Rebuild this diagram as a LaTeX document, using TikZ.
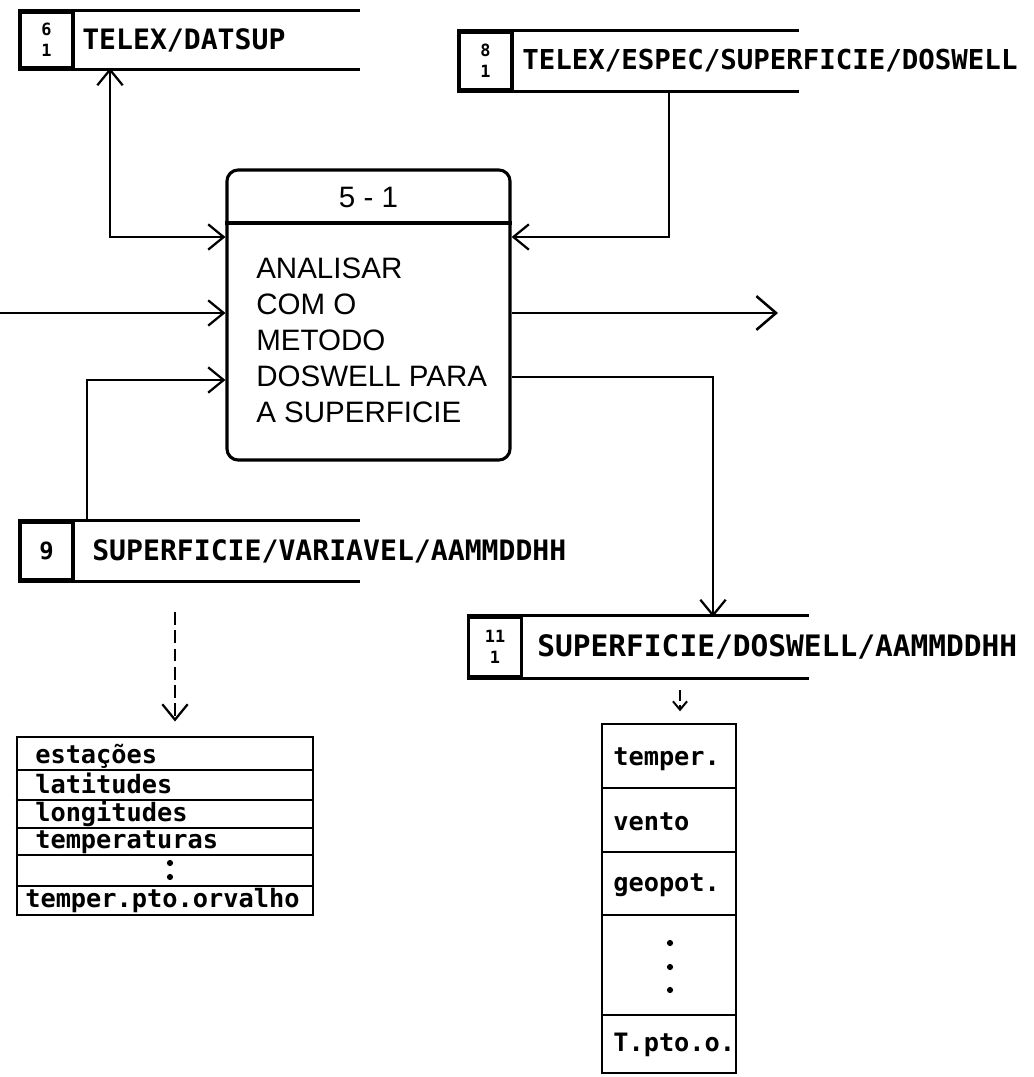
\documentclass[tikz,border=0pt]{standalone}
\usepackage{fontspec}
\setmainfont{Liberation Sans}
\newfontfamily\printfont{DejaVu Sans Mono}
\usetikzlibrary{arrows.meta}

\tikzset{
  arq/.style={line width=2.6pt},
  arqnum/.style={draw, line width=2.2pt, minimum width=1.325cm, minimum height=1.45cm, inner sep=0pt, align=center, font=\printfont\bfseries\fontsize{12}{15}\selectfont},
  arqnome/.style={anchor=west, inner sep=0pt, font=\printfont\bfseries\fontsize{20}{22}\selectfont},
  proc/.style={draw, line width=2.2pt, rounded corners=8pt, minimum width=7.075cm, minimum height=7.25cm, inner sep=0pt},
  proctxt/.style={anchor=west, inner sep=0pt, font=\fontsize{21}{24}\selectfont},
  fluxo/.style={line width=1.6pt, ->},
  tab/.style={draw, line width=2pt, inner sep=0pt},
  celtxt/.style={anchor=base west, inner sep=0pt, font=\printfont\bfseries\fontsize{18}{20}\selectfont},
}

\begin{document}
\begin{tikzpicture}[x=0.025cm, y=-0.025cm, >={Straight Barb[length=11pt,width=18pt,line width=1.6pt]}]
    \useasboundingbox (0,0) rectangle (1033,1077);

    % Arquivos
    \node[arqnum, minimum height=1.4cm] (a6) at (46.5,40) {6\\1};
    \draw[arq] (a6.north west) -- ++(342,0) (a6.south west) -- ++(342,0);
    \node[arqnome] (n6) at (82,40) {TELEX/DATSUP};

    \node[arqnum] (a8) at (485.5,61) {8\\1};
    \draw[arq] (a8.north west) -- ++(342,0) (a8.south west) -- ++(342,0);
    \node[arqnome, font=\printfont\bfseries\fontsize{19.5}{22}\selectfont] (n8) at (522,61) {TELEX/ESPEC/SUPERFICIE/DOSWELL};

    \node[arqnum, font=\printfont\bfseries\fontsize{17}{18}\selectfont] (a9) at (46.5,551) {9};
    \draw[arq] (a9.north west) -- ++(342,0) (a9.south west) -- ++(342,0);
    \node[arqnome] (n9) at (92,551) {SUPERFICIE/VARIAVEL/AAMMDDHH};

    \node[arqnum, minimum height=1.5cm] (a11) at (495,647) {11\\1};
    \draw[arq] (a11.north west) -- ++(342,0) (a11.south west) -- ++(342,0);
    \node[arqnome, font=\printfont\bfseries\fontsize{21}{22}\selectfont] (n11) at (537,647) {SUPERFICIE/DOSWELL/AAMMDDHH};

    % Processo 5-1
    \node[proc] (p) at (368.5,315) {};
    \draw[line width=2.2pt] (p.west |- 0,223) -- (p.east |- 0,223);
    \node[font=\fontsize{21}{24}\selectfont] (pn) at (368.5,197) {5 - 1};
    \foreach \linha [count=\i] in {ANALISAR, COM O, METODO, DOSWELL PARA, A SUPERFICIE}
        \node[proctxt] (t\i) at (256,{268+36*(\i-1)}) {\linha};

    % Fluxos
    \coordinate (e6) at (110,68);
    \coordinate (e8) at (669,90);
    \coordinate (ent) at (0,313);
    \coordinate (sai) at (778,313);
    \coordinate (e9) at (87,522);
    \coordinate (e11) at (713,617);
    \draw[fluxo, <->] (e6) |- (p.west |- 0,237);
    \draw[fluxo] (e8) |- (p.east |- 0,237);
    \draw[fluxo] (ent) -- (p.west |- ent);
    \draw[fluxo, -{Straight Barb[length=14pt,width=24pt,line width=1.8pt]}] (p.east |- sai) -- (sai);
    \draw[fluxo] (e9) |- (p.west |- 0,380);
    \draw[fluxo] (p.east |- 0,377) -| (e11);

    % Conteudo dos arquivos
    \node[tab, minimum width=7.4cm, minimum height=4.45cm] (tb1) at (165,826) {};
    \foreach \y in {770,800,828,855,886}
        \draw[line width=1.5pt] (tb1.west |- 0,\y) -- (tb1.east |- 0,\y);
    \node[celtxt] (c1) at (35,763) {estações};
    \node[celtxt] (c2) at (35,793) {latitudes};
    \node[celtxt] (c3) at (35,821) {longitudes};
    \node[celtxt] (c4) at (35,848) {temperaturas};
    \fill (170,863) circle (2.2pt) (170,877) circle (2.2pt);
    \node[celtxt] (c5) at (25,907) {temper.pto.orvalho};

    \node[tab, minimum width=3.35cm, minimum height=8.725cm] (tb2) at (669,898.5) {};
    \foreach \y in {788,852,915,1015}
        \draw[line width=1.5pt] (tb2.west |- 0,\y) -- (tb2.east |- 0,\y);
    \node[celtxt] (v1) at (613,765) {temper.};
    \node[celtxt] (v2) at (613,830) {vento};
    \node[celtxt] (v3) at (613,891) {geopot.};
    \fill (670,943) circle (2.2pt) (670,967) circle (2.2pt) (670,990) circle (2.2pt);
    \node[celtxt] (v4) at (613,1051) {T.pto.o.};

    \coordinate (d9) at (175,612);
    \coordinate (d11) at (680,690);
    \draw[fluxo, dash pattern=on 9pt off 4pt, shorten >=10pt] (d9) -- (d9 |- tb1.north);
    \draw[line width=1.4pt, dash pattern=on 8pt off 3pt, shorten >=8pt, -{Straight Barb[length=6pt,width=10pt,line width=1.4pt]}] (d11) -- (d11 |- tb2.north);

\end{tikzpicture}
\end{document}
